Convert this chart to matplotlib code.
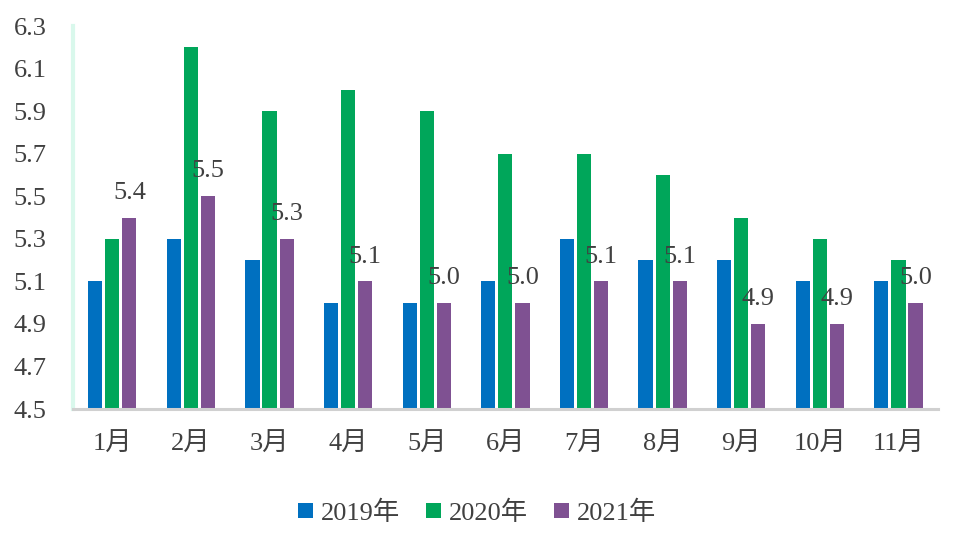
import matplotlib
matplotlib.use("Agg")
import matplotlib.pyplot as plt
import numpy as np

plt.rcParams['font.family'] = ['Liberation Serif', 'Noto Sans CJK SC', 'DejaVu Sans']

months = ["1月", "2月", "3月", "4月", "5月", "6月", "7月", "8月", "9月", "10月", "11月"]
y2019 = [5.1, 5.3, 5.2, 5.0, 5.0, 5.1, 5.3, 5.2, 5.2, 5.1, 5.1]
y2020 = [5.3, 6.2, 5.9, 6.0, 5.9, 5.7, 5.7, 5.6, 5.4, 5.3, 5.2]
y2021 = [5.4, 5.5, 5.3, 5.1, 5.0, 5.0, 5.1, 5.1, 4.9, 4.9, 5.0]
series_names = ["2019年", "2020年", "2021年"]
yticks = [4.5, 4.7, 4.9, 5.1, 5.3, 5.5, 5.7, 5.9, 6.1, 6.3]

colors = ["#0070c0", "#00a65a", "#7f5192"]
text_color = "#404040"
fs = 19

fig = plt.figure(figsize=(9.54, 5.34), dpi=100)
ax = fig.add_axes([0.0765, 0.234, 0.9065, 0.717])

x = np.arange(len(months))
w = 0.18
pitch = 0.217
base = 4.5
for i, (vals, c, name) in enumerate(zip([y2019, y2020, y2021], colors, series_names)):
    vals = np.array(vals)
    ax.bar(x + (i - 1) * pitch, vals - base, bottom=base, width=w, color=c, label=name)
    if i == 2:
        for xi, v in zip(x + (i - 1) * pitch, vals):
            ax.annotate(f"{v:.1f}", (xi, v), xytext=(0, 10), textcoords="offset points",
                        ha="center", va="bottom", fontsize=fs, color=text_color)

ax.set_xlim(-0.5, len(months) - 0.5)
ax.set_ylim(4.5, 6.3)
ax.set_yticks(yticks)
ax.set_yticklabels([f"{t:.1f}" for t in yticks])
ax.set_xticks(x)
ax.set_xticklabels(months)
ax.tick_params(axis='y', length=0, pad=19, labelsize=fs, labelcolor=text_color)
ax.tick_params(axis='x', length=0, pad=17, labelsize=fs, labelcolor=text_color)

for s in ["top", "right"]:
    ax.spines[s].set_visible(False)
ax.spines["left"].set_color("#d9f8ec")
ax.spines["left"].set_linewidth(3)
ax.spines["bottom"].set_color("#d0d0d0")
ax.spines["bottom"].set_linewidth(2.2)

fig.legend(loc="center", bbox_to_anchor=(0.5, 0.04), ncol=3, frameon=False,
           fontsize=fs, handlelength=0.55, handleheight=0.55, handletextpad=0.3,
           columnspacing=1.0, labelcolor=text_color)

fig.savefig("out.png", dpi=100)
